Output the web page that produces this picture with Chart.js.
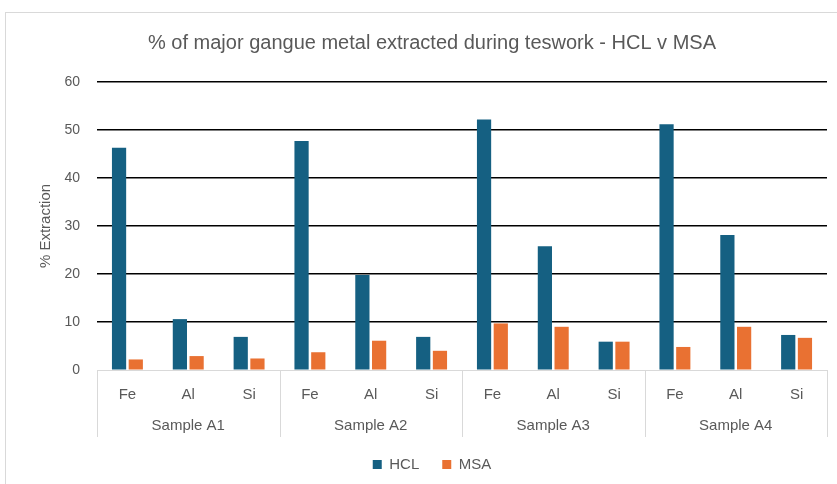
<!DOCTYPE html>
<html>
<head>
<meta charset="utf-8">
<script src="https://cdn.jsdelivr.net/npm/chart.js@4.4.1/dist/chart.umd.min.js"></script>
<style>
    html, body { margin: 0; padding: 0; background: #fff; }
    #wrap { position: relative; width: 837px; height: 484px; overflow: hidden; }
    #frame { position: absolute; left: 5px; top: 12px; width: 900px; height: 600px; border: 1px solid #d9d9d9; }
    #chart { position: absolute; left: 0; top: 0; }
</style>
</head>
<body>
<div id="wrap">
    <div id="frame"></div>
    <canvas id="chart" width="837" height="484"></canvas>
</div>
<script>
// dados
const groups = ['Sample A1', 'Sample A2', 'Sample A3', 'Sample A4'];
const metals = ['Fe', 'Al', 'Si'];
const hclValues = [46.3, 10.6, 6.9, 47.7, 19.8, 6.9, 52.2, 25.8, 5.9, 51.2, 28.1, 7.3];
const msaValues = [2.2, 2.9, 2.4, 3.7, 6.1, 4.0, 9.7, 9.0, 5.9, 4.8, 9.0, 6.7];
const yTicks = [0, 10, 20, 30, 40, 50, 60];

const labels = [];
groups.forEach(function () { metals.forEach(function (m) { labels.push(m); }); });

const textColor = '#595959';
const fontFamily = '"Liberation Sans", Arial, sans-serif';

// desenha os rótulos de grupo (Sample A1...) e os separadores
const groupAxisPlugin = {
    id: 'groupAxis',
    afterDraw: function (chart) {
        const ctx = chart.ctx;
        const x = chart.scales.x;
        const top = chart.chartArea.bottom;
        const half = (x.getPixelForValue(1) - x.getPixelForValue(0)) / 2;
        ctx.save();
        ctx.strokeStyle = '#d9d9d9';
        ctx.lineWidth = 1;
        for (let g = 0; g <= groups.length; g++) {
            const px = Math.round(x.getPixelForValue(g * 3) - half) + 0.5;
            ctx.beginPath();
            ctx.moveTo(px, top);
            ctx.lineTo(px, top + 67);
            ctx.stroke();
        }
        ctx.fillStyle = textColor;
        ctx.font = '15px ' + fontFamily;
        ctx.textAlign = 'center';
        ctx.textBaseline = 'middle';
        groups.forEach(function (name, g) {
            const cx = (x.getPixelForValue(g * 3) + x.getPixelForValue(g * 3 + 2)) / 2;
            ctx.fillText(name, cx, top + 56);
        });
        ctx.restore();
    }
};

new Chart(document.getElementById('chart'), {
    type: 'bar',
    data: {
        labels: labels,
        datasets: [{
            label: 'HCL',
            data: hclValues,
            backgroundColor: '#156082',
            categoryPercentage: 0.55,
            barPercentage: 0.85
        }, {
            label: 'MSA',
            data: msaValues,
            backgroundColor: '#E97132',
            categoryPercentage: 0.55,
            barPercentage: 0.85
        }]
    },
    options: {
        responsive: false,
        animation: false,
        layout: { padding: { left: 37, right: 10, top: 0, bottom: 2 } },
        scales: {
            x: {
                grid: { display: false },
                border: { display: true, color: '#d9d9d9', width: 1 },
                ticks: { color: textColor, font: { family: fontFamily, size: 15 }, padding: 8 },
                afterFit: function (scale) { scale.height = 64; }
            },
            y: {
                min: 0,
                max: 60,
                afterBuildTicks: function (scale) {
                    scale.ticks = yTicks.map(function (v) { return { value: v }; });
                },
                grid: {
                    drawTicks: false,
                    color: function (c) { return c.tick.value === 0 ? '#d9d9d9' : '#000'; },
                    lineWidth: function (c) { return c.tick.value === 0 ? 1 : 1.6; }
                },
                border: { display: false },
                ticks: { color: textColor, font: { family: fontFamily, size: 14 }, padding: 17 },
                title: {
                    display: true,
                    text: '% Extraction',
                    color: textColor,
                    font: { family: fontFamily, size: 15 },
                    padding: { top: 0, bottom: 8 }
                },
                afterFit: function (scale) { scale.width = 60; }
            }
        },
        plugins: {
            title: {
                display: true,
                text: '% of major gangue metal extracted during teswork - HCL v MSA',
                color: textColor,
                font: { family: fontFamily, size: 20, weight: 'normal' },
                padding: { top: 31, bottom: 27 }
            },
            legend: {
                position: 'bottom',
                labels: {
                    color: textColor,
                    font: { family: fontFamily, size: 15 },
                    boxWidth: 9,
                    boxHeight: 9,
                    padding: 23
                }
            },
            tooltip: { enabled: false }
        }
    },
    plugins: [groupAxisPlugin]
});
</script>
</body>
</html>
